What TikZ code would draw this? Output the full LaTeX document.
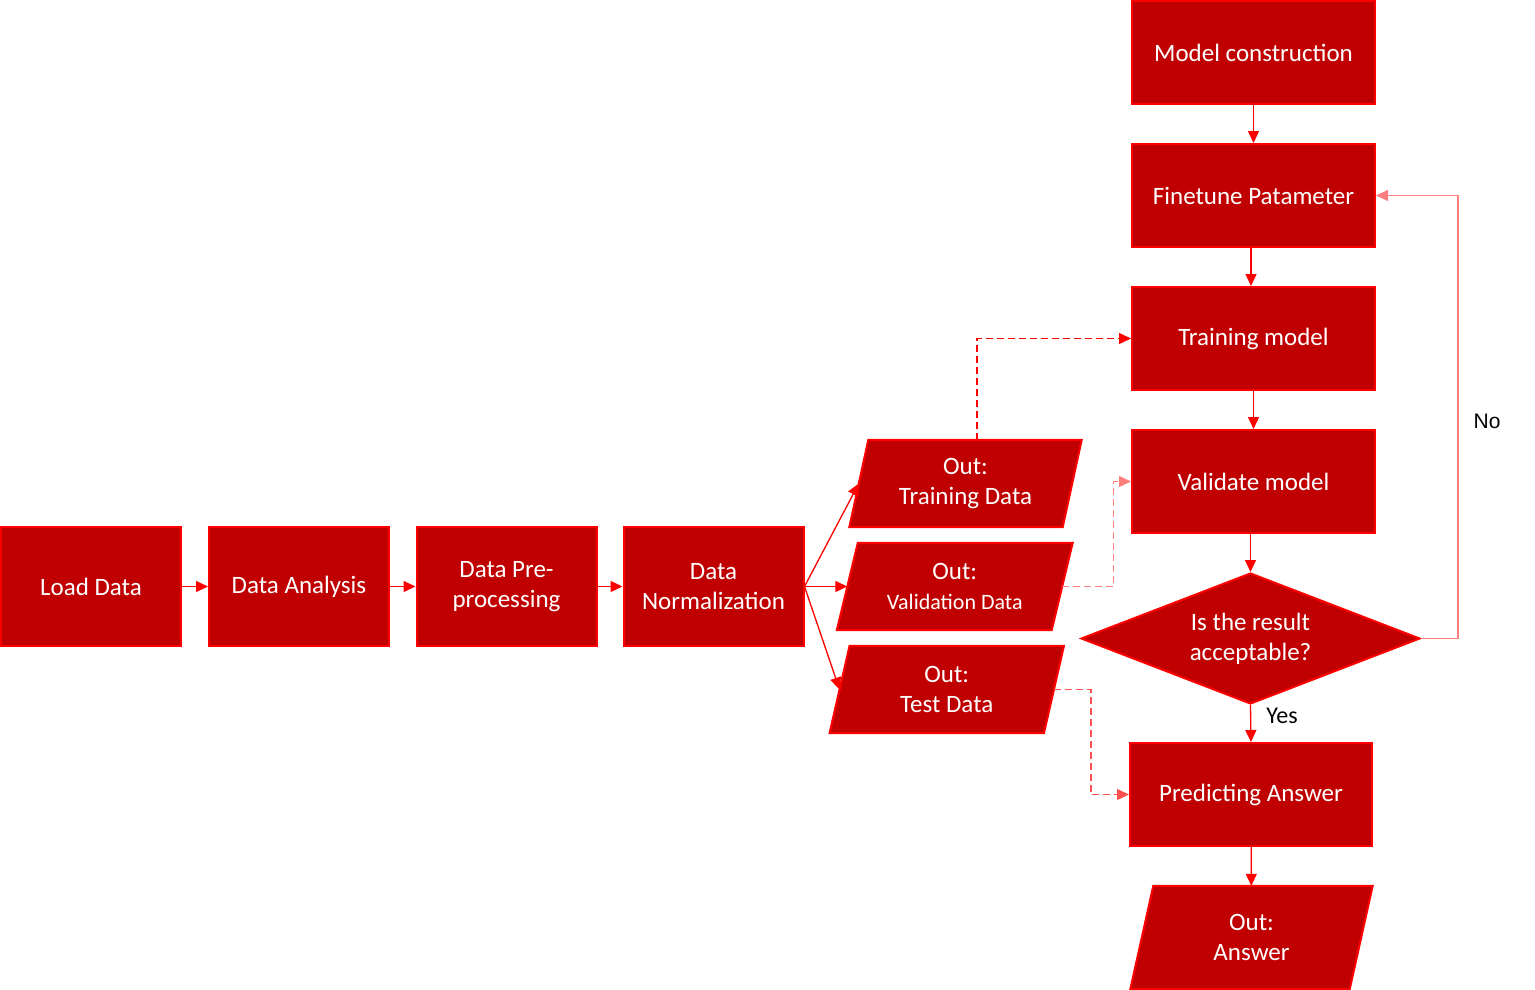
\documentclass[tikz,border=0pt]{standalone}
\usepackage{fontspec}
\setmainfont{Carlito}
\newfontfamily\arialf{Liberation Sans}
\usetikzlibrary{arrows.meta,shapes.geometric,backgrounds,calc}
\definecolor{boxfill}{HTML}{C00000}
\definecolor{boxline}{HTML}{FF0000}
\definecolor{lightred}{HTML}{FF7F7F}
\definecolor{midred}{HTML}{FF5050}
\tikzset{
  box/.style={rectangle, fill=boxfill, draw=boxline, line width=2pt, text=white, align=center,
    font=\fontsize{25}{30}\selectfont, inner sep=0pt},
  lbox/.style={box, minimum width=180, minimum height=119},
  rbox/.style={box, minimum width=243, minimum height=103},
  para/.style={rectangle, text=white, align=center, font=\fontsize{25}{30}\selectfont, inner sep=0pt},
  pshape/.style={fill=boxfill, draw=boxline, line width=2pt, line join=miter},
  dec/.style={diamond, fill=boxfill, draw=boxline, line width=2pt, text=white, align=center,
    font=\fontsize{25}{30}\selectfont, inner sep=0pt, aspect=2.59, minimum width=339, minimum height=131},
  arr/.style={draw=boxline, line width=1.3pt, -{Triangle[length=12pt,width=11pt]}},
  darr/.style={arr, dash pattern=on 7pt off 4pt},
  lbl/.style={text=black, font=\fontsize{24}{28}\selectfont, inner sep=0pt}
}
\begin{document}
\begin{tikzpicture}[x=1pt,y=-1pt]
\useasboundingbox (0,0) rectangle (1535,990);
% left row
\node[lbox] (ld) at (91,586.5) {Load Data};
\node[lbox] (da) at (299,586.5) {Data Analysis};
\node[lbox] (dp) at (506.5,586.5) {Data Pre-\\processing};
\node[lbox] (dn) at (713.5,586.5) {Data\\Normalization};
% outputs
\node[para, minimum width=213, minimum height=87] (tr) at (965.5,483.5) {Out:\\Training Data};
\node[para, minimum width=214.5, minimum height=87] (va) at (954.75,586.5) {Out:\\{\fontsize{22}{30}\selectfont Validation Data}};
\node[para, minimum width=214, minimum height=87] (te) at (946.75,689.5) {Out:\\Test Data};
% right column
\node[rbox] (mc) at (1253.5,52.5) {Model construction};
\node[rbox] (ft) at (1253.5,195.5) {Finetune Patameter};
\node[rbox] (tm) at (1253.5,338.5) {Training model};
\node[rbox] (vm) at (1253.5,481.5) {Validate model};
\node[dec] (ck) at (1250.5,638.5) {Is the result\\acceptable?};
\node[rbox, minimum width=242] (pa) at (1251,794.5) {Predicting Answer};
\node[para, minimum width=219, minimum height=103] (an) at (1251.5,937.5) {Out:\\Answer};
% parallelogram outlines
\begin{scope}[on background layer]
\draw[pshape] ([xshift=9.5]tr.north west) -- ([xshift=9.5]tr.north east) -- ([xshift=-9.5]tr.south east) -- ([xshift=-9.5]tr.south west) -- cycle;
\draw[pshape] ([xshift=10.5]va.north west) -- ([xshift=10.5]va.north east) -- ([xshift=-10.5]va.south east) -- ([xshift=-10.5]va.south west) -- cycle;
\draw[pshape] ([xshift=10]te.north west) -- ([xshift=10]te.north east) -- ([xshift=-10]te.south east) -- ([xshift=-10]te.south west) -- cycle;
\draw[pshape] ([xshift=11.5]an.north west) -- ([xshift=11.5]an.north east) -- ([xshift=-11.5]an.south east) -- ([xshift=-11.5]an.south west) -- cycle;
\end{scope}
% connectors
\draw[arr] (ld) -- (da);
\draw[arr] (da) -- (dp);
\draw[arr] (dp) -- (dn);
\draw[arr] (dn.east) -- (tr.west);
\draw[arr] (dn.east) -- (va.west);
\draw[arr] (dn.east) -- (te.west);
\draw[arr] (mc) -- (ft);
\draw[arr] ([xshift=-2.5]ft.south) -- ([xshift=-2.5]tm.north);
\draw[arr] (tm) -- (vm);
\draw[arr] ([xshift=-3]vm.south) -- (ck.north);
\draw[arr] (ck.south) -- (pa.north);
\draw[arr] (pa) -- (an);
\draw[darr, draw=boxline] ([xshift=11.5]tr.north) |- (tm.west);
\draw[darr, draw=lightred] (va.east) -- ++(51,0) |- (vm.west);
\draw[darr, draw=midred] (te.east) -- ++(37,0) |- (pa.west);
\draw[arr, draw=lightred] (ck.east) -- ++(37,0) |- (ft.east);
% labels
\node[lbl] (yes) at (1282,716) {Yes};
\node[lbl, font=\arialf\fontsize{21}{25}\selectfont] (no) at (1487,421) {No};
\end{tikzpicture}
\end{document}
